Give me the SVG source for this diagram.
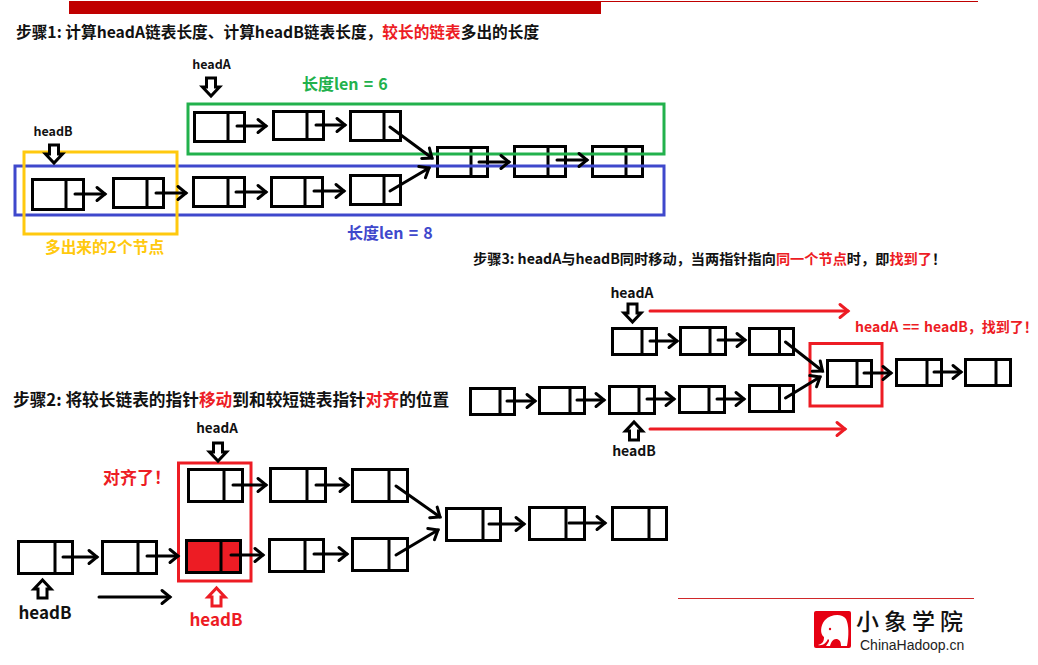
<svg xmlns="http://www.w3.org/2000/svg" width="1038" height="665" viewBox="0 0 1038 665">
<style>
text{font-family:"Noto Sans CJK SC","Noto Sans",sans-serif;font-weight:700;fill:#111}
.r{fill:#ed1c24}.red{fill:#ed1c24}
.n rect{fill:#fff;stroke:#000;stroke-width:3}
.n line{stroke:#000;stroke-width:3}
.n rect.f{fill:#ed1c24}
.c line{stroke:#000;stroke-width:3;marker-end:url(#h);stroke-linecap:round}
.c line.rl{stroke:#ed1c24;marker-end:url(#hr)}
.frame{fill:none;stroke-width:3}
.bp{fill:#fff;stroke:#000;stroke-width:3}
.bp.rp{stroke:#ed1c24}
</style>
<defs>
<marker id="h" markerUnits="userSpaceOnUse" markerWidth="24" markerHeight="24" refX="12" refY="12" orient="auto"><path d="M4,5.500L12,12L4,18.500" fill="none" stroke="#000" stroke-width="3" stroke-linecap="round" stroke-linejoin="miter"/></marker>
<marker id="hr" markerUnits="userSpaceOnUse" markerWidth="24" markerHeight="24" refX="12" refY="12" orient="auto"><path d="M4,5.500L12,12L4,18.500" fill="none" stroke="#ed1c24" stroke-width="3" stroke-linecap="round"/></marker>
<path id="dn" d="M-4.500,-18H4.500V-9H8.500L0,0L-8.500,-9H-4.500Z"/>
</defs>
<g id="header">
<rect x="69" y="1" width="532" height="13" fill="#c00000"/>
<line x1="601" y1="1.500" x2="978" y2="1.500" stroke="#c00000" stroke-width="1"/>
</g>
<g id="titles">
<text x="16" y="38" font-size="15.700">步骤1: 计算headA链表长度、计算headB链表长度，<tspan class="r">较长的链表</tspan>多出的长度</text>
<text x="13" y="406" font-size="16.700">步骤2: 将较长链表的指针<tspan class="r">移动</tspan>到和较短链表指针<tspan class="r">对齐</tspan>的位置</text>
<text x="473" y="264" font-size="14.200">步骤3: headA与headB同时移动，当两指针指向<tspan class="r">同一个节点</tspan>时，即<tspan class="r">找到了</tspan>！</text>
</g>
<g id="nodes" class="n">
<g id="s1a1"><rect x="194.500" y="112.500" width="50" height="29"/><line x1="228" y1="112" x2="228" y2="142"/></g>
<g id="s1a2"><rect x="273.500" y="111.500" width="50" height="28"/><line x1="307" y1="111" x2="307" y2="140"/></g>
<g id="s1a3"><rect x="350.500" y="111.500" width="50" height="29"/><line x1="384" y1="111" x2="384" y2="141"/></g>
<g id="s1m1"><rect x="437.500" y="147.500" width="50" height="29"/><line x1="471" y1="147" x2="471" y2="177"/></g>
<g id="s1m2"><rect x="514.500" y="146.500" width="51" height="30"/><line x1="548" y1="146" x2="548" y2="177"/></g>
<g id="s1m3"><rect x="592.500" y="146.500" width="50" height="30"/><line x1="626" y1="146" x2="626" y2="177"/></g>
<g id="s1b1"><rect x="32.500" y="179.500" width="51" height="30"/><line x1="66" y1="179" x2="66" y2="210"/></g>
<g id="s1b2"><rect x="113.500" y="178.500" width="50" height="29"/><line x1="147" y1="178" x2="147" y2="208"/></g>
<g id="s1b3"><rect x="193.500" y="177.500" width="51" height="29"/><line x1="228" y1="177" x2="228" y2="207"/></g>
<g id="s1b4"><rect x="271.500" y="177.500" width="51" height="29"/><line x1="305" y1="177" x2="305" y2="207"/></g>
<g id="s1b5"><rect x="350.500" y="175.500" width="50" height="29"/><line x1="384" y1="175" x2="384" y2="205"/></g>

<g id="s2a1"><rect x="188.500" y="469.500" width="54" height="32"/><line x1="224" y1="469" x2="224" y2="502"/></g>
<g id="s2a2"><rect x="270.500" y="468.500" width="55" height="33"/><line x1="307" y1="468" x2="307" y2="502"/></g>
<g id="s2a3"><rect x="352.500" y="469.500" width="55" height="32"/><line x1="389" y1="469" x2="389" y2="502"/></g>
<g id="s2m1"><rect x="446.500" y="508.500" width="54" height="32"/><line x1="483" y1="508" x2="483" y2="541"/></g>
<g id="s2m2"><rect x="529.500" y="507.500" width="55" height="32"/><line x1="566" y1="507" x2="566" y2="540"/></g>
<g id="s2m3"><rect x="612.500" y="507.500" width="54" height="32"/><line x1="649" y1="507" x2="649" y2="540"/></g>
<g id="s2b1"><rect x="18.500" y="541.500" width="54" height="32"/><line x1="55" y1="541" x2="55" y2="574"/></g>
<g id="s2b2"><rect x="102.500" y="541.500" width="54" height="32"/><line x1="138" y1="541" x2="138" y2="574"/></g>
<g id="s2b3"><rect class="f" x="186.500" y="540.500" width="54" height="32"/><line x1="221" y1="540" x2="221" y2="573"/></g>
<g id="s2b4"><rect x="269.500" y="539.500" width="54" height="32"/><line x1="305" y1="539" x2="305" y2="572"/></g>
<g id="s2b5"><rect x="352.500" y="538.500" width="55" height="32"/><line x1="389" y1="538" x2="389" y2="571"/></g>

<g id="s3a1"><rect x="612.500" y="328.500" width="44" height="26"/><line x1="642" y1="328" x2="642" y2="355"/></g>
<g id="s3a2"><rect x="680.500" y="327.500" width="45" height="27"/><line x1="710" y1="327" x2="710" y2="355"/></g>
<g id="s3a3"><rect x="749.500" y="328.500" width="44" height="26"/><line x1="779.500" y1="328" x2="779.500" y2="355"/></g>
<g id="s3m1"><rect x="827.500" y="360.500" width="44" height="26"/><line x1="857" y1="360" x2="857" y2="387"/></g>
<g id="s3m2"><rect x="896.500" y="359.500" width="45" height="26"/><line x1="927" y1="359" x2="927" y2="386"/></g>
<g id="s3m3"><rect x="965.500" y="359.500" width="45" height="26"/><line x1="996" y1="359" x2="996" y2="386"/></g>
<g id="s3b1"><rect x="470.500" y="388.500" width="44" height="26"/><line x1="500" y1="388" x2="500" y2="415"/></g>
<g id="s3b2"><rect x="539.500" y="387.500" width="45" height="26"/><line x1="570" y1="387" x2="570" y2="414"/></g>
<g id="s3b3"><rect x="609.500" y="386.500" width="45" height="27"/><line x1="639" y1="386" x2="639" y2="414"/></g>
<g id="s3b4"><rect x="679.500" y="386.500" width="45" height="26"/><line x1="709" y1="386" x2="709" y2="413"/></g>
<g id="s3b5"><rect x="749.500" y="385.500" width="44" height="26"/><line x1="779.500" y1="385" x2="779.500" y2="412"/></g>
</g>
<g id="frames">
<rect class="frame" x="188" y="104" width="476" height="50" stroke="#22b14c"/>
<rect class="frame" x="15" y="166" width="649" height="49" stroke="#3f48cc"/>
<rect class="frame" x="24" y="152" width="153" height="82" stroke="#ffc90e"/>
<rect class="frame" x="178.500" y="463" width="72.500" height="118" stroke="#ed1c24"/>
<rect class="frame" x="810" y="343.500" width="72" height="62.500" stroke="#ed1c24"/>
</g>
<g id="connectors" class="c">
<line x1="237" y1="126" x2="266" y2="126"/><line x1="316" y1="125" x2="345" y2="125"/>
<line x1="390" y1="127" x2="432" y2="158"/><line x1="390" y1="191" x2="429" y2="168"/>
<line x1="479" y1="162" x2="509" y2="162"/><line x1="557" y1="160" x2="587" y2="160"/>
<line x1="75" y1="194" x2="105" y2="194"/><line x1="156" y1="193" x2="186" y2="193"/>
<line x1="236" y1="192" x2="266" y2="192"/><line x1="314" y1="191" x2="344" y2="191"/>

<line x1="233" y1="485" x2="266" y2="485"/><line x1="316" y1="485" x2="348" y2="485"/>
<line x1="396" y1="486" x2="440" y2="517"/><line x1="396" y1="555" x2="438" y2="530"/>
<line x1="489" y1="524" x2="524" y2="524"/><line x1="569" y1="523" x2="605" y2="523"/>
<line x1="63" y1="557" x2="97" y2="557"/><line x1="147" y1="556" x2="178" y2="556"/>
<line x1="231" y1="555" x2="263" y2="555"/><line x1="314" y1="554" x2="347" y2="554"/>
<line x1="99" y1="597" x2="170" y2="597"/>

<line x1="650" y1="341" x2="677" y2="341"/><line x1="718" y1="340" x2="745" y2="340"/>
<line x1="785.500" y1="342" x2="822.500" y2="371"/><line x1="785.500" y1="398" x2="820" y2="377"/>
<line x1="864" y1="373" x2="891" y2="373"/><line x1="934" y1="372" x2="961" y2="372"/>
<line x1="507" y1="401" x2="535" y2="401"/><line x1="577" y1="400" x2="604" y2="400"/>
<line x1="647" y1="399" x2="674" y2="399"/><line x1="717" y1="399" x2="744" y2="399"/>
<line class="rl" x1="650" y1="311" x2="848" y2="311"/><line class="rl" x1="650" y1="429" x2="845" y2="429"/>
</g>
<g id="pointers">
<use href="#dn" class="bp" transform="translate(211,96)"/>
<use href="#dn" class="bp" transform="translate(54,163)"/>
<use href="#dn" class="bp" transform="translate(218,461)"/>
<use href="#dn" class="bp" transform="translate(42.500,580) rotate(180)"/>
<use href="#dn" class="bp rp" transform="translate(216.500,588) rotate(180)"/>
<use href="#dn" class="bp" transform="translate(632.500,322)"/>
<use href="#dn" class="bp" transform="translate(634,422) rotate(180)"/>
</g>
<g id="labels">
<text x="211.500" y="69" font-size="12.500" text-anchor="middle">headA</text>
<text x="53" y="136" font-size="12.500" text-anchor="middle">headB</text>
<text x="302" y="90" font-size="16" style="fill:#22b14c" word-spacing="1.500">长度len = 6</text>
<text x="347" y="239" font-size="16" style="fill:#3f48cc" word-spacing="1.500">长度len = 8</text>
<text x="45" y="253" font-size="15.700" style="fill:#ffc90e">多出来的2个节点</text>
<text x="217" y="433" font-size="13.500" text-anchor="middle">headA</text>
<text x="103" y="484" font-size="17" class="r">对齐了！</text>
<text x="45" y="619" font-size="17" text-anchor="middle">headB</text>
<text x="216" y="626" font-size="17" text-anchor="middle" class="r">headB</text>
<text x="632" y="298" font-size="14" text-anchor="middle">headA</text>
<text x="634" y="456" font-size="14" text-anchor="middle">headB</text>
<text x="855" y="332" font-size="14" word-spacing="1.500" class="r">headA == headB，找到了！</text>
</g>
<g id="footer">
<line x1="678" y1="598.500" x2="974" y2="598.500" stroke="#d0282a" stroke-width="1.200"/>
<rect x="814" y="611" width="37" height="37" rx="2" fill="#e60012"/>
<path d="M818,645C822,644 824,642 824,637C820,634 820,626 825,620C831,614 842,613 846,619C849,625 849,636 847,646H841C841,641 839,639 836,639C833,639 831,642 830,646H826C829,642 830,640 828,639C826,643 823,646 818,645Z" fill="#fff"/>
<circle cx="830" cy="629" r="1.200" fill="#e60012"/>
<text x="856" y="630" font-size="23" style="font-weight:500;fill:#111;letter-spacing:5px">小象学院</text>
<text x="860" y="649.500" font-size="14" style="font-family:'Liberation Sans',sans-serif;font-weight:400;fill:#222">ChinaHadoop.cn</text>
</g>
</svg>
